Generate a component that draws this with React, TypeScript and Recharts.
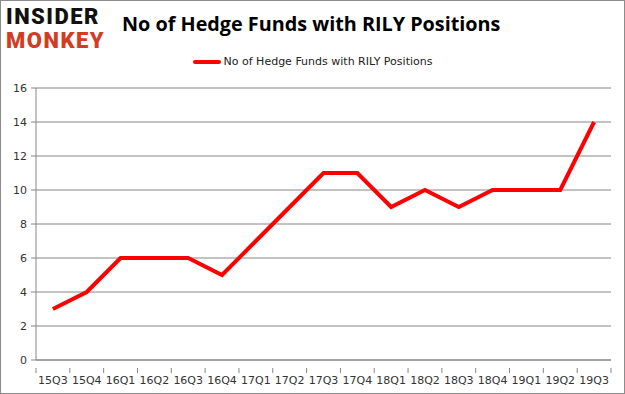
import React from 'react';
import { LineChart, Line, XAxis, YAxis, CartesianGrid, Legend } from 'recharts';

// values
const quarters = ['15Q3', '15Q4', '16Q1', '16Q2', '16Q3', '16Q4', '17Q1', '17Q2', '17Q3', '17Q4', '18Q1', '18Q2', '18Q3', '18Q4', '19Q1', '19Q2', '19Q3'];
const funds = [3, 4, 6, 6, 6, 5, 7, 9, 11, 11, 9, 10, 9, 10, 10, 10, 14];
const yTicks = [0, 2, 4, 6, 8, 10, 12, 14, 16];
const seriesName = 'No of Hedge Funds with RILY Positions';

const data = quarters.map((q, i) => ({ quarter: q, value: funds[i] }));

const W = 625;
const H = 394;
const PLOT_LEFT = 36;
const PLOT_RIGHT = 611;
const STEP = (PLOT_RIGHT - PLOT_LEFT) / quarters.length;
const AXIS_COLOR = '#868686';
const LABEL_FONT = '"DejaVu Sans", Verdana, sans-serif';

const QuarterTick = (props: any) => {
  const { x, y, payload, index } = props;
  const left = x - STEP / 2;
  return (
    <g>
      <line x1={left} x2={left} y1={y} y2={y + 5} stroke={AXIS_COLOR} />
      {index === quarters.length - 1 && (
        <line x1={left + STEP} x2={left + STEP} y1={y} y2={y + 5} stroke={AXIS_COLOR} />
      )}
      <text x={x} y={y + 16} textAnchor="middle" fontSize={11} fill="#333" fontFamily={LABEL_FONT}>
        {payload.value}
      </text>
    </g>
  );
};

const LegendContent = () => (
  <div style={{ display: 'flex', alignItems: 'center', justifyContent: 'center', fontFamily: LABEL_FONT, fontSize: 11, color: '#222' }}>
    <span style={{ display: 'inline-block', width: 28, height: 4, background: '#ff0000', borderRadius: 2, marginRight: 3 }} />
    {seriesName}
  </div>
);

export default function App() {
  return (
    <div style={{ position: 'absolute', left: 0, top: 0, width: W, height: H, boxSizing: 'border-box', border: '1px solid #8c8c8c', background: '#fff', overflow: 'hidden' }}>
      <div style={{ position: 'absolute', left: 5, top: 4, fontFamily: 'Roboto, sans-serif', fontWeight: 900, fontSize: 22, lineHeight: '24px', letterSpacing: 1.5 }}>
        <div style={{ color: '#111' }}>INSIDER</div>
        <div style={{ color: '#d23c22' }}>MONKEY</div>
      </div>
      <div style={{ position: 'absolute', left: 121, top: 9, fontFamily: '"Open Sans", sans-serif', fontWeight: 700, fontSize: 19.8, color: '#000', whiteSpace: 'nowrap' }}>
        {seriesName}
      </div>
      <LineChart width={W - 2} height={H - 2} data={data} margin={{ top: 87, right: W - 1 - PLOT_RIGHT, left: 0, bottom: 0 }}>
        <CartesianGrid vertical={false} stroke={AXIS_COLOR} strokeWidth={1} />
        <XAxis dataKey="quarter" scale="band" stroke={AXIS_COLOR} tickLine={false} tick={<QuarterTick />} interval={0} height={33} />
        <YAxis domain={[0, 16]} ticks={yTicks} width={PLOT_LEFT - 1} stroke={AXIS_COLOR} tickSize={5} tickMargin={4} tick={{ fontSize: 11, fill: '#333', fontFamily: LABEL_FONT }} interval={0} />
        <Legend verticalAlign="middle" layout="horizontal" content={<LegendContent />} wrapperStyle={{ top: 54, left: 0, width: W - 2 }} />
        <Line dataKey="value" name={seriesName} stroke="#ff0000" strokeWidth={4} dot={false} isAnimationActive={false} type="linear" />
      </LineChart>
    </div>
  );
}
